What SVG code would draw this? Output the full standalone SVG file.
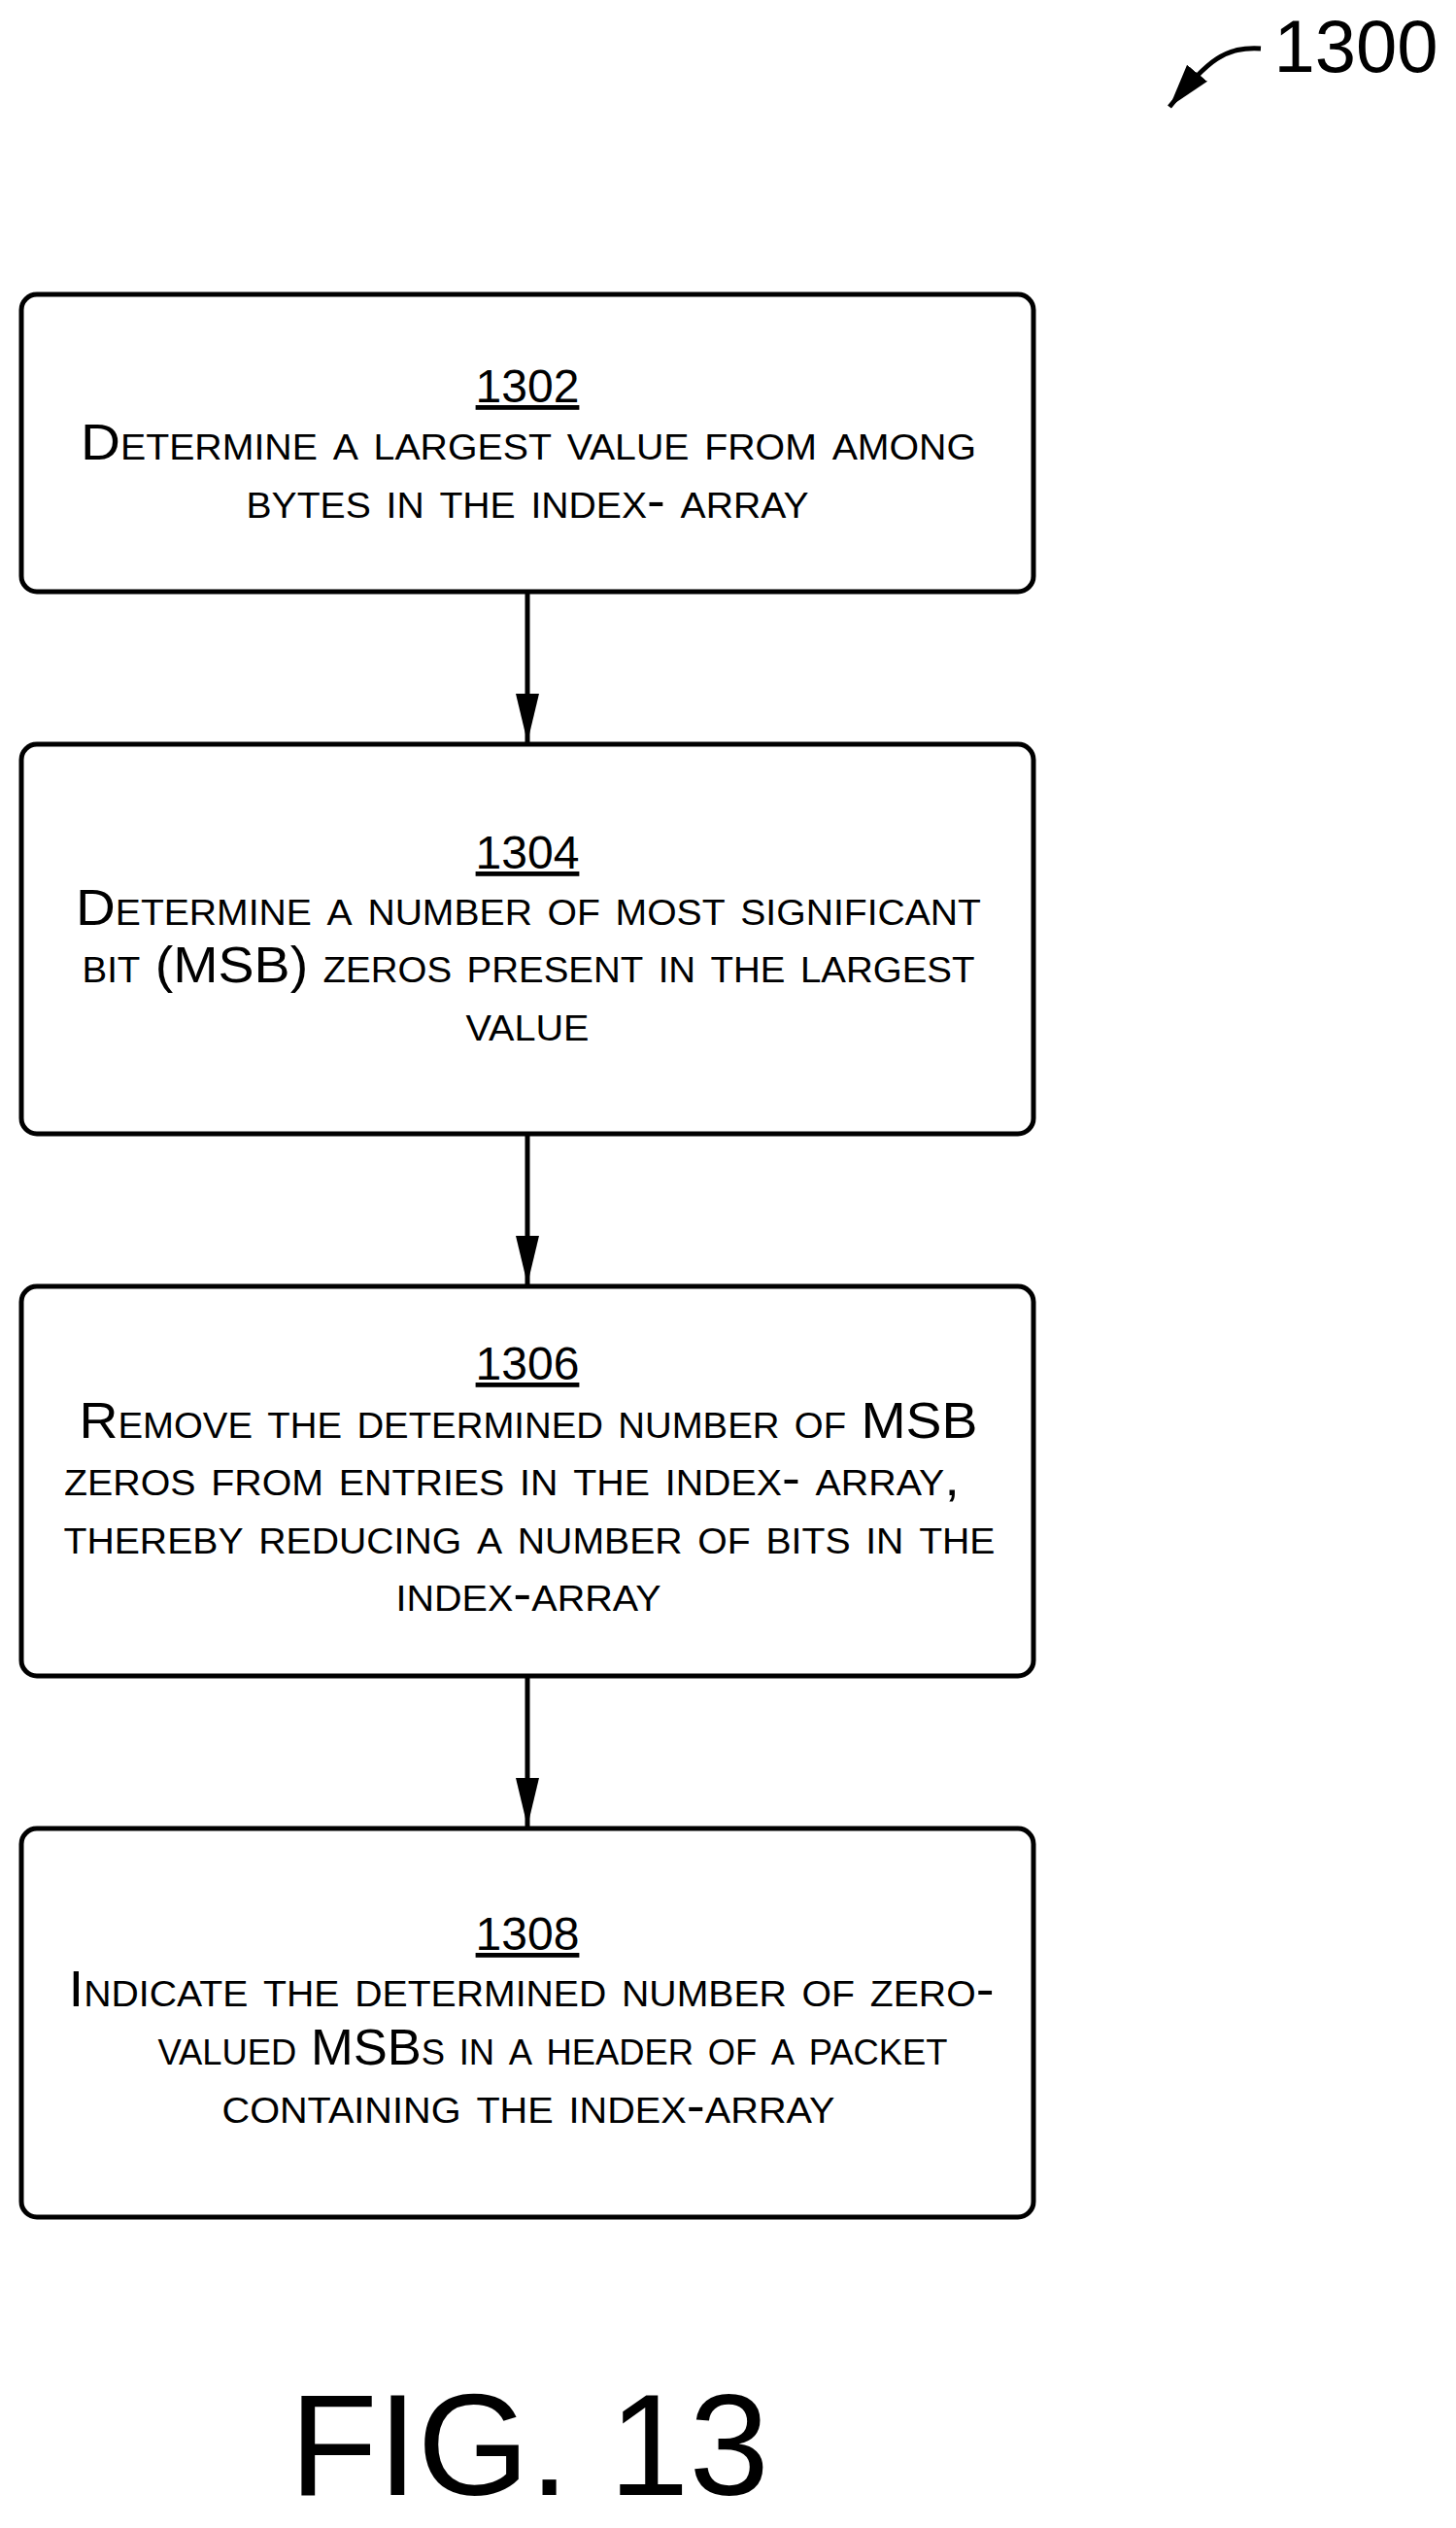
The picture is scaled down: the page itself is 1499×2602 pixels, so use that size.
<svg xmlns="http://www.w3.org/2000/svg" width="1499" height="2602" viewBox="0 0 1499 2602">
<style>
.box{fill:#fff;stroke:#000;stroke-width:5}
.t{font-family:"Liberation Sans",Arial,sans-serif;font-size:52px;font-variant:small-caps;text-anchor:middle}
.n{font-family:"Liberation Sans",Arial,sans-serif;font-size:48px;text-anchor:middle;text-decoration:underline}
.c{stroke:#000;stroke-width:5;fill:none}
</style>
<defs>
<marker id="ah" viewBox="0 0 10 10" refX="10" refY="5" markerWidth="50" markerHeight="50" markerUnits="userSpaceOnUse" orient="auto"><path d="M0,2.6L10,5L0,7.4z"/></marker>
<marker id="ah2" viewBox="0 0 10 10" refX="10" refY="5" markerWidth="45" markerHeight="45" markerUnits="userSpaceOnUse" orient="auto"><path d="M0,2L10,5L0,8z"/></marker></defs>
<rect width="1499" height="2602" fill="#fff"/>
<g id="label1300">
<text x="1396" y="74" font-family="Liberation Sans,Arial,sans-serif" font-size="76" text-anchor="middle">1300</text>
<path class="c" d="M1298,50C1262,48 1245,60 1204,110" marker-end="url(#ah2)"/>
</g>
<g id="n1302"><rect class="box" x="22" y="303" width="1042" height="306" rx="16"/>
<text class="n" x="543" y="414">1302</text>
<text class="t" x="544" y="473" textLength="922" lengthAdjust="spacingAndGlyphs">Determine a largest value from among</text>
<text class="t" x="543" y="533" textLength="579" lengthAdjust="spacingAndGlyphs">bytes in the index- array</text></g>
<g id="n1304"><rect class="box" x="22" y="766" width="1042" height="401" rx="16"/>
<text class="n" x="543" y="894">1304</text>
<text class="t" x="544" y="952" textLength="932" lengthAdjust="spacingAndGlyphs">Determine a number of most significant</text>
<text class="t" x="544" y="1011" textLength="919" lengthAdjust="spacingAndGlyphs">bit (MSB) zeros present in the largest</text>
<text class="t" x="543" y="1071" textLength="127" lengthAdjust="spacingAndGlyphs">value</text></g>
<g id="n1306"><rect class="box" x="22" y="1324" width="1042" height="401" rx="16"/>
<text class="n" x="543" y="1420">1306</text>
<text class="t" x="544" y="1480" textLength="925" lengthAdjust="spacingAndGlyphs">Remove the determined number of MSB</text>
<text class="t" x="527" y="1539" textLength="922" lengthAdjust="spacingAndGlyphs">zeros from entries in the index- array,</text>
<text class="t" x="545" y="1599" textLength="959" lengthAdjust="spacingAndGlyphs">thereby reducing a number of bits in the</text>
<text class="t" x="544" y="1658" textLength="273" lengthAdjust="spacingAndGlyphs">index-array</text></g>
<g id="n1308"><rect class="box" x="22" y="1882" width="1042" height="400" rx="16"/>
<text class="n" x="543" y="2007">1308</text>
<text class="t" x="547" y="2065" textLength="953" lengthAdjust="spacingAndGlyphs">Indicate the determined number of zero-</text>
<text class="t" x="569" y="2125" textLength="813" lengthAdjust="spacingAndGlyphs">valued MSBs in a header of a packet</text>
<text class="t" x="544" y="2185" textLength="631" lengthAdjust="spacingAndGlyphs">containing the index-array</text></g>
<g id="connectors">
<line class="c" x1="543" y1="609" x2="543" y2="764" marker-end="url(#ah)"/>
<line class="c" x1="543" y1="1167" x2="543" y2="1322" marker-end="url(#ah)"/>
<line class="c" x1="543" y1="1725" x2="543" y2="1880" marker-end="url(#ah)"/>
</g>
<text x="545" y="2568" font-family="Liberation Sans,Arial,sans-serif" font-size="148" text-anchor="middle">FIG. 13</text>
</svg>
